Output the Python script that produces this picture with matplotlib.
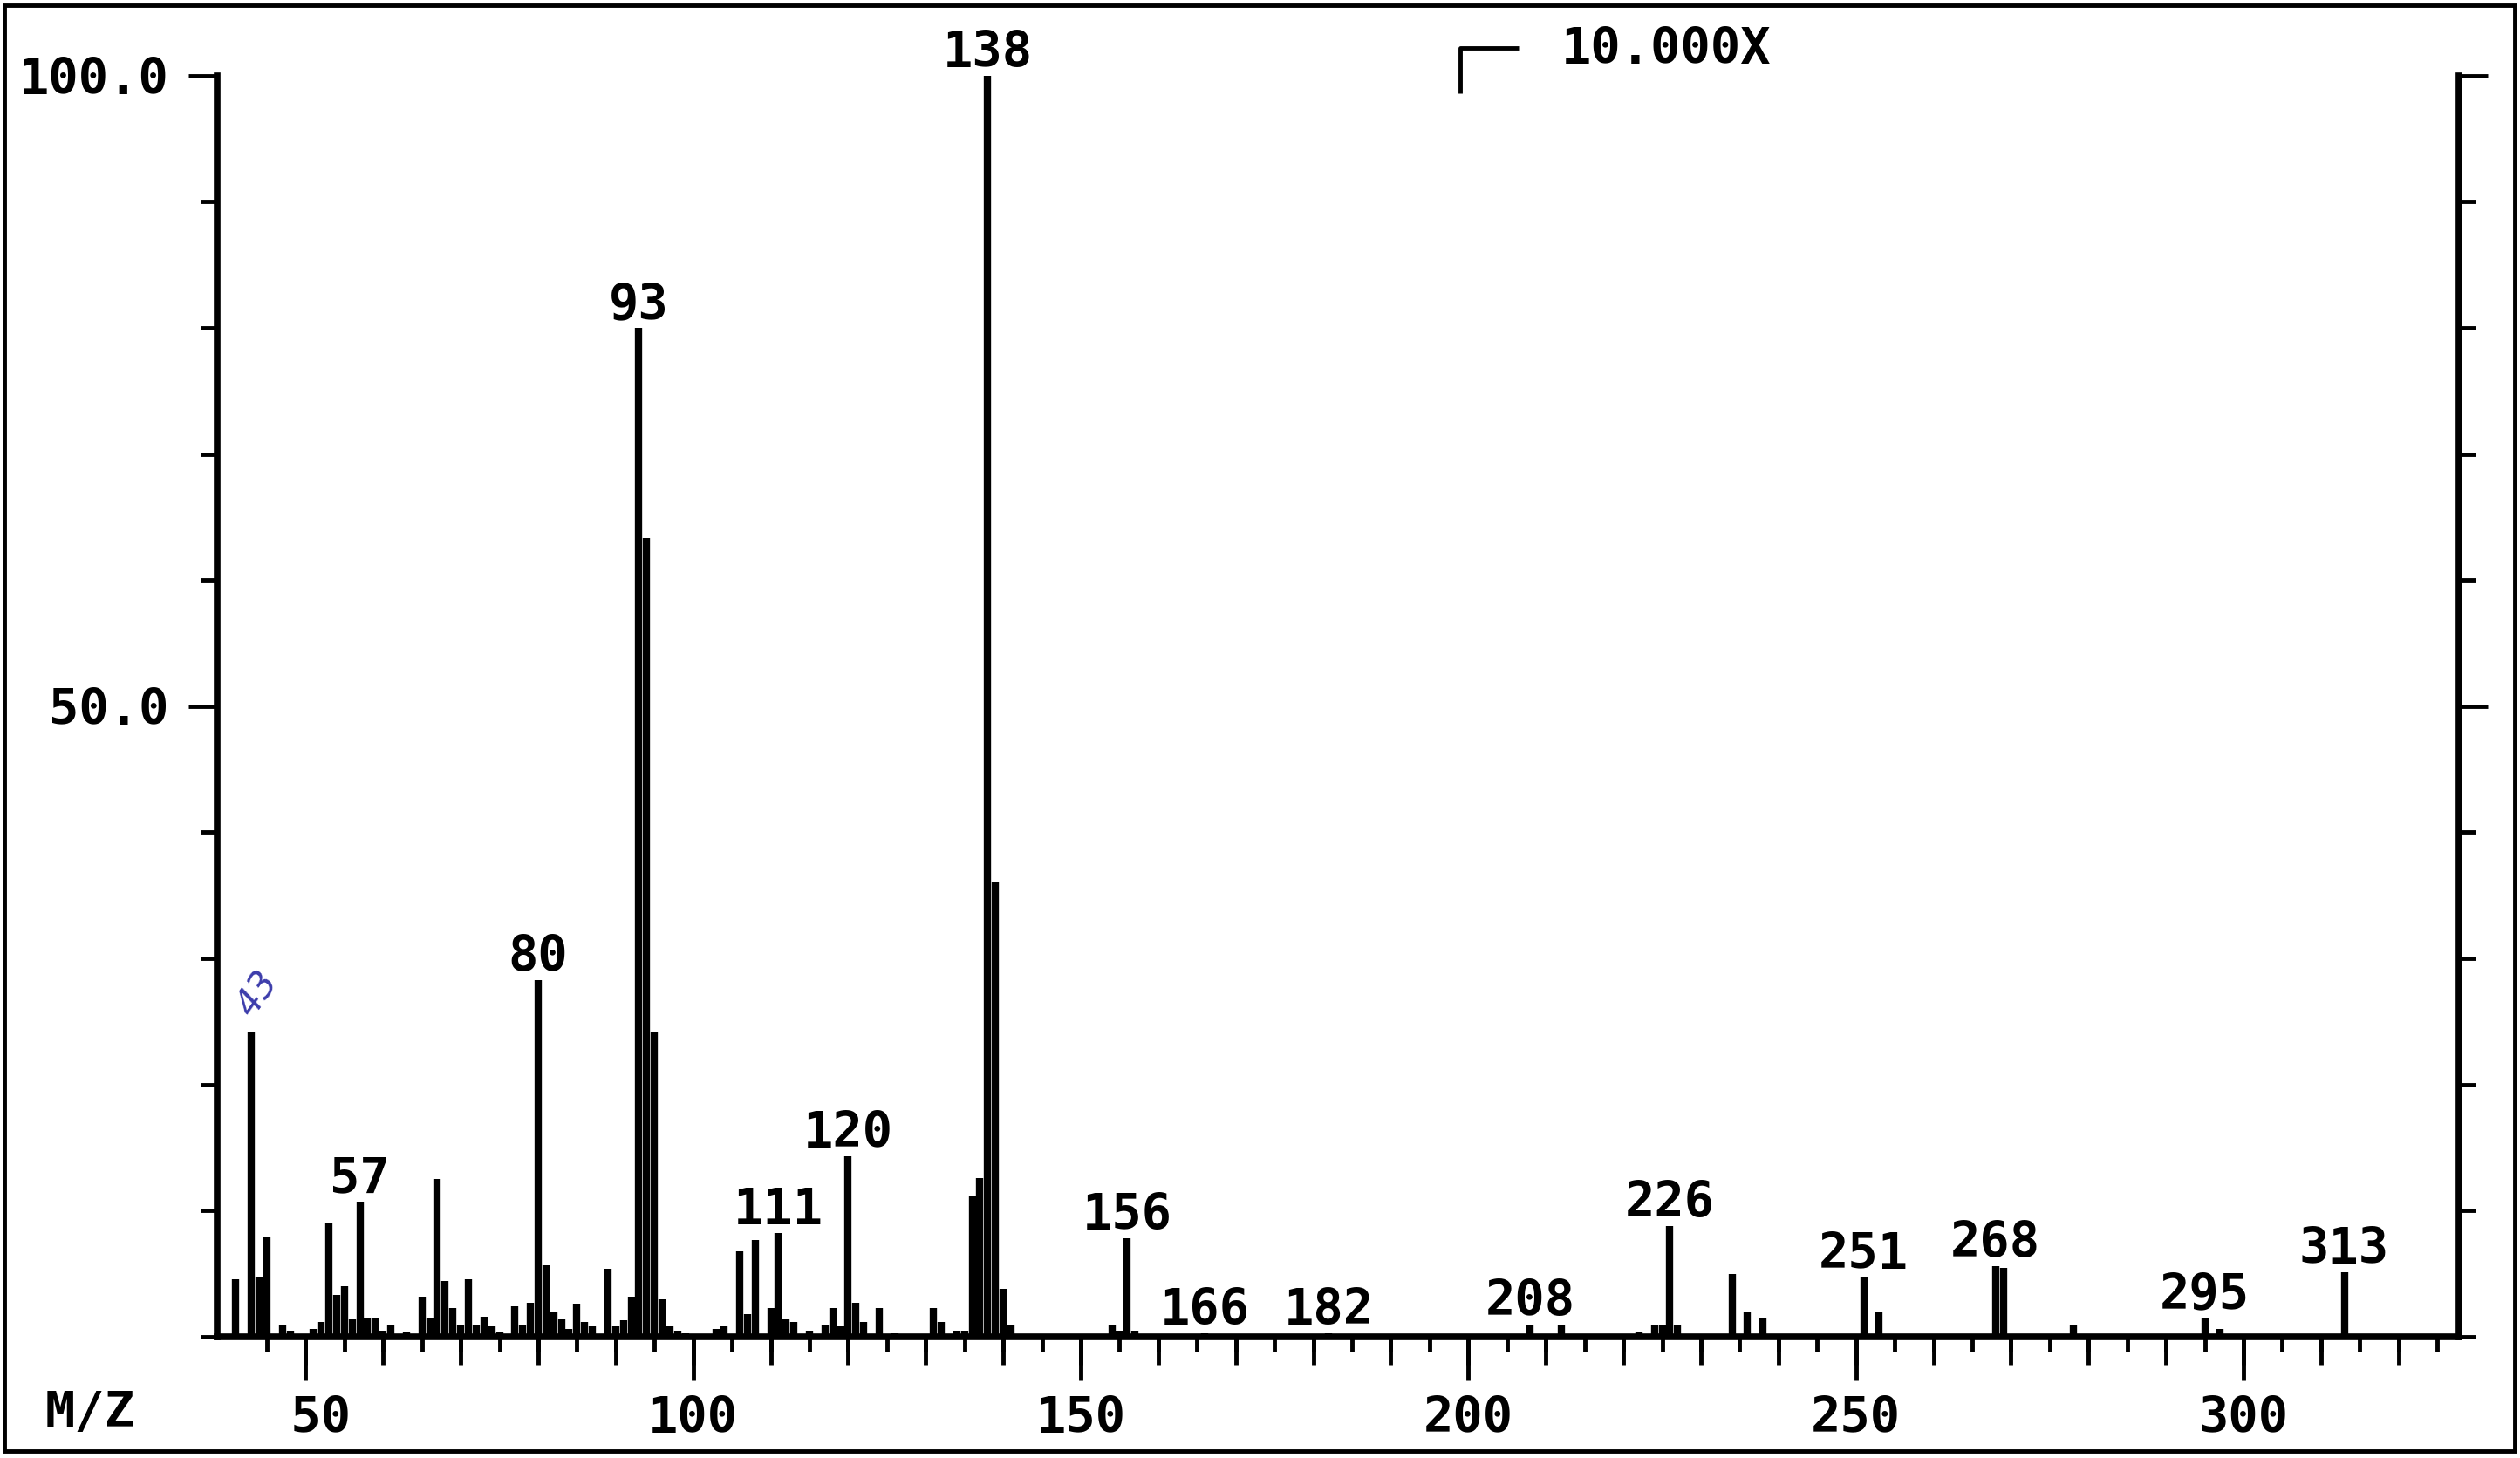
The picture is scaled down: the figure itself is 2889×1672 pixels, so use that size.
import matplotlib
matplotlib.use('Agg')
import matplotlib.pyplot as plt
from matplotlib.patches import Rectangle
from matplotlib.ticker import FixedLocator, MultipleLocator, FuncFormatter

plt.rcParams['font.family'] = ['DejaVu Sans Mono']
plt.rcParams['font.weight'] = 'bold'

# Data: m/z values and relative abundance (%)
mz = [41, 43, 44, 45, 47, 48, 51, 52, 53, 54, 55, 56, 57, 58, 59, 60, 61, 63,
      65, 66, 67, 68, 69, 70, 71, 72, 73, 74, 75, 77, 78, 79, 80, 81, 82, 83,
      84, 85, 86, 87, 89, 90, 91, 92, 93, 94, 95, 96, 97, 98, 99,
      103, 104, 106, 107, 108, 110, 111, 112, 113, 115, 117, 118, 119, 120,
      121, 122, 124, 126, 131, 132, 134, 135, 136, 137, 138, 139, 140, 141,
      154, 155, 156, 157, 166, 182, 208, 212, 222, 224, 225, 226, 227,
      234, 236, 238, 251, 253, 268, 269, 278, 295, 297, 313]
abundance = [4.6, 24.2, 4.8, 7.9, 0.9, 0.5, 0.6, 1.2, 9.0, 3.3, 4.0, 1.4, 10.7, 1.5, 1.5, 0.5, 0.9, 0.4,
             3.2, 1.5, 12.5, 4.4, 2.3, 1.0, 4.6, 1.0, 1.6, 0.8, 0.4, 2.4, 1.0, 2.7, 28.3, 5.7, 2.0, 1.4,
             0.6, 2.6, 1.2, 0.8, 5.4, 0.8, 1.3, 3.2, 80.0, 63.3, 24.2, 3.0, 0.8, 0.5, 0.3,
             0.6, 0.8, 6.8, 1.8, 7.7, 2.3, 8.2, 1.4, 1.2, 0.5, 0.9, 2.3, 0.8, 14.3,
             2.7, 1.2, 2.3, 0.3, 2.3, 1.2, 0.5, 0.5, 11.2, 12.6, 100.0, 36.0, 3.8, 1.0,
             0.9, 0.5, 7.8, 0.5, 0.3, 0.3, 1.0, 1.0, 0.4, 0.9, 1.0, 8.8, 0.9,
             5.0, 2.0, 1.5, 4.7, 2.0, 5.6, 5.5, 1.0, 1.5, 0.6, 5.1]
labeled = [57, 80, 93, 111, 120, 138, 156, 166, 182, 208, 226, 251, 268, 295, 313]

x_ticks_major = [50, 100, 150, 200, 250, 300]
y_ticks_major = [50, 100]
y_tick_labels = ['50.0', '100.0']

FS = 41

fig = plt.figure(figsize=(28.89, 16.72), dpi=100)
ax = fig.add_axes([0.0862, 0.0831, 0.8896, 0.8651])

ax.vlines(mz, 0, abundance, colors='black', linewidth=6, clip_on=False)

ab = dict(zip(mz, abundance))
for m in labeled:
    ax.annotate(str(m), (m, ab[m]), textcoords='offset pixels', xytext=(0, 10),
                ha='center', va='baseline', fontsize=FS)

# handwritten note
ax.text(43.8, 27.2, '43', color='#3c3cab', rotation=55, fontsize=30,
        fontstyle='italic', fontweight='normal', ha='center', va='center',
        family='DejaVu Sans')

ax.set_xlim(38.6, 327.8)
ax.set_ylim(0, 100)

for s in ['left', 'right', 'bottom']:
    ax.spines[s].set_linewidth(5.5)
ax.spines['top'].set_visible(False)

ax.xaxis.set_major_locator(FixedLocator(x_ticks_major))
ax.xaxis.set_minor_locator(FixedLocator(list(range(45, 330, 5))))
ax.xaxis.set_major_formatter(FuncFormatter(lambda v, p: f"{int(v):3d}"))
ax.tick_params(axis='x', which='major', length=36, width=3.5, direction='out',
               pad=12, labelsize=FS)
ax.tick_params(axis='x', which='minor', length=12, width=3.5, direction='out')

sec = ax.secondary_xaxis('bottom')
sec.set_xticks(list(range(50, 330, 10)))
sec.set_xticklabels([])
sec.tick_params(length=23, width=3.5, direction='out')
sec.spines['bottom'].set_visible(False)

ax.yaxis.set_major_locator(FixedLocator(y_ticks_major))
ax.set_yticklabels(y_tick_labels)
ax.yaxis.set_minor_locator(MultipleLocator(10))
ax.tick_params(axis='y', which='both', left=True, right=True, direction='out', width=3.5)
ax.tick_params(axis='y', which='major', length=24, pad=16, labelsize=FS)
ax.tick_params(axis='y', which='minor', length=14)

# magnification marker
zoom_mz = 199
ax.plot([zoom_mz, zoom_mz, zoom_mz + 7.5], [98.6, 102.2, 102.2], color='black',
        linewidth=3.5, clip_on=False, solid_capstyle='butt')
ax.text(212, 102.0, '10.000X', ha='left', va='center', fontsize=FS)

fig.text(52 / 2889, 1 - 1621 / 1672, 'M/Z', ha='left', va='center', fontsize=FS)

fig.patches.append(Rectangle((0.0017, 0.0048), 0.9963, 0.9916, transform=fig.transFigure,
                             fill=False, linewidth=3.5, edgecolor='black'))

fig.savefig('out.png', dpi=100, facecolor='white')
